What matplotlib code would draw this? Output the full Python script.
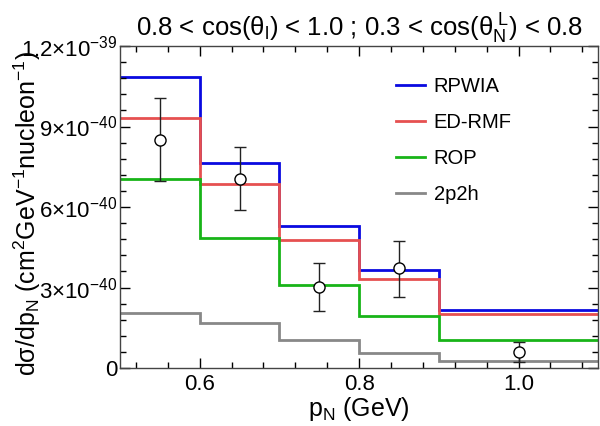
import numpy as np
import matplotlib
matplotlib.use("Agg")
import matplotlib.pyplot as plt
from matplotlib.ticker import FixedLocator, MultipleLocator, FuncFormatter

plt.rcParams.update({
    "font.family": ["Liberation Sans", "DejaVu Sans"],
    "mathtext.fontset": "custom",
    "mathtext.rm": "Liberation Sans",
    "mathtext.it": "Liberation Sans:italic",
    "mathtext.bf": "Liberation Sans:bold",
    "mathtext.default": "regular",
})

# bin edges in p_N (GeV)
edges = [0.5, 0.6, 0.7, 0.8, 0.9, 1.1]

# model predictions (cm^2 GeV^-1 nucleon^-1)
rpwia = [10.86e-40, 7.64e-40, 5.28e-40, 3.64e-40, 2.17e-40]
edrmf = [9.31e-40, 6.86e-40, 4.77e-40, 3.33e-40, 2.01e-40]
rop = [7.06e-40, 4.84e-40, 3.09e-40, 1.93e-40, 1.06e-40]
p2h2 = [2.05e-40, 1.69e-40, 1.06e-40, 0.56e-40, 0.27e-40]

# data points
data_x = [0.55, 0.65, 0.75, 0.85, 1.0]
data_y = [8.50e-40, 7.06e-40, 3.02e-40, 3.71e-40, 0.60e-40]
data_lo = [6.96e-40, 5.90e-40, 2.12e-40, 2.66e-40, 0.23e-40]
data_hi = [10.06e-40, 8.22e-40, 3.91e-40, 4.74e-40, 0.98e-40]

ytick_vals = [0, 3e-40, 6e-40, 9e-40, 1.2e-39]
ytick_text = ["0", r"3$\times$10$^{-40}$", r"6$\times$10$^{-40}$",
              r"9$\times$10$^{-40}$", r"1.2$\times$10$^{-39}$"]

fig = plt.figure(figsize=(6.0, 4.26), dpi=100)
ax = fig.add_axes([0.2, 0.136, 0.797, 0.756])

lw = 2.0
ax.stairs(rpwia, edges, baseline=None, color="#0a0ae0", lw=lw, label="RPWIA")
ax.stairs(edrmf, edges, baseline=None, color="#e65050", lw=lw, label="ED-RMF")
ax.stairs(rop, edges, baseline=None, color="#18b418", lw=lw, label="ROP")
ax.stairs(p2h2, edges, baseline=None, color="#888888", lw=lw, label="2p2h")

y = np.array(data_y)
yerr = [y - np.array(data_lo), np.array(data_hi) - y]
ax.errorbar(data_x, y, yerr=yerr, fmt="o", mfc="white", mec="black",
            ms=8, mew=1.0, ecolor="#222222", elinewidth=1.0, capsize=4,
            capthick=1.0, zorder=5)

ax.set_xlim(0.5, 1.1)
ax.set_ylim(0, 1.2e-39)
ax.xaxis.set_major_locator(FixedLocator([0.6, 0.8, 1.0]))
ax.xaxis.set_major_formatter(FuncFormatter(lambda v, p: f"{v:.1f}"))
ax.xaxis.set_minor_locator(MultipleLocator(0.04))
ax.yaxis.set_major_locator(FixedLocator(ytick_vals))
ax.set_yticklabels(ytick_text)
ax.yaxis.set_minor_locator(MultipleLocator(0.6e-40))
ax.tick_params(which="both", direction="in", top=True, right=True,
               labelsize=16, pad=2)
ax.tick_params(axis="x", pad=4)
ax.tick_params(which="major", length=7, width=1)
ax.tick_params(which="minor", length=4, width=1)
for s in ax.spines.values():
    s.set_linewidth(1.0)
    s.set_color("#444444")

ax.set_xlabel(r"p$_N$ (GeV)", fontsize=18, labelpad=0)
ax.set_ylabel(r"d$\sigma$/dp$_N$ (cm$^2$GeV$^{-1}$nucleon$^{-1}$)",
              fontsize=18)
ax.yaxis.set_label_coords(-0.161, 0.48)
ax.set_title(r"0.8 < cos($\theta_l$) < 1.0 ; 0.3 < cos($\theta_N^{\ L}$) < 0.8",
             fontsize=18.5, pad=6)

ax.legend(loc="upper left", bbox_to_anchor=(0.54, 0.96), frameon=False,
          fontsize=14.5, handlelength=1.4, labelspacing=0.85, handletextpad=0.45)

fig.savefig("out.png", dpi=100)
